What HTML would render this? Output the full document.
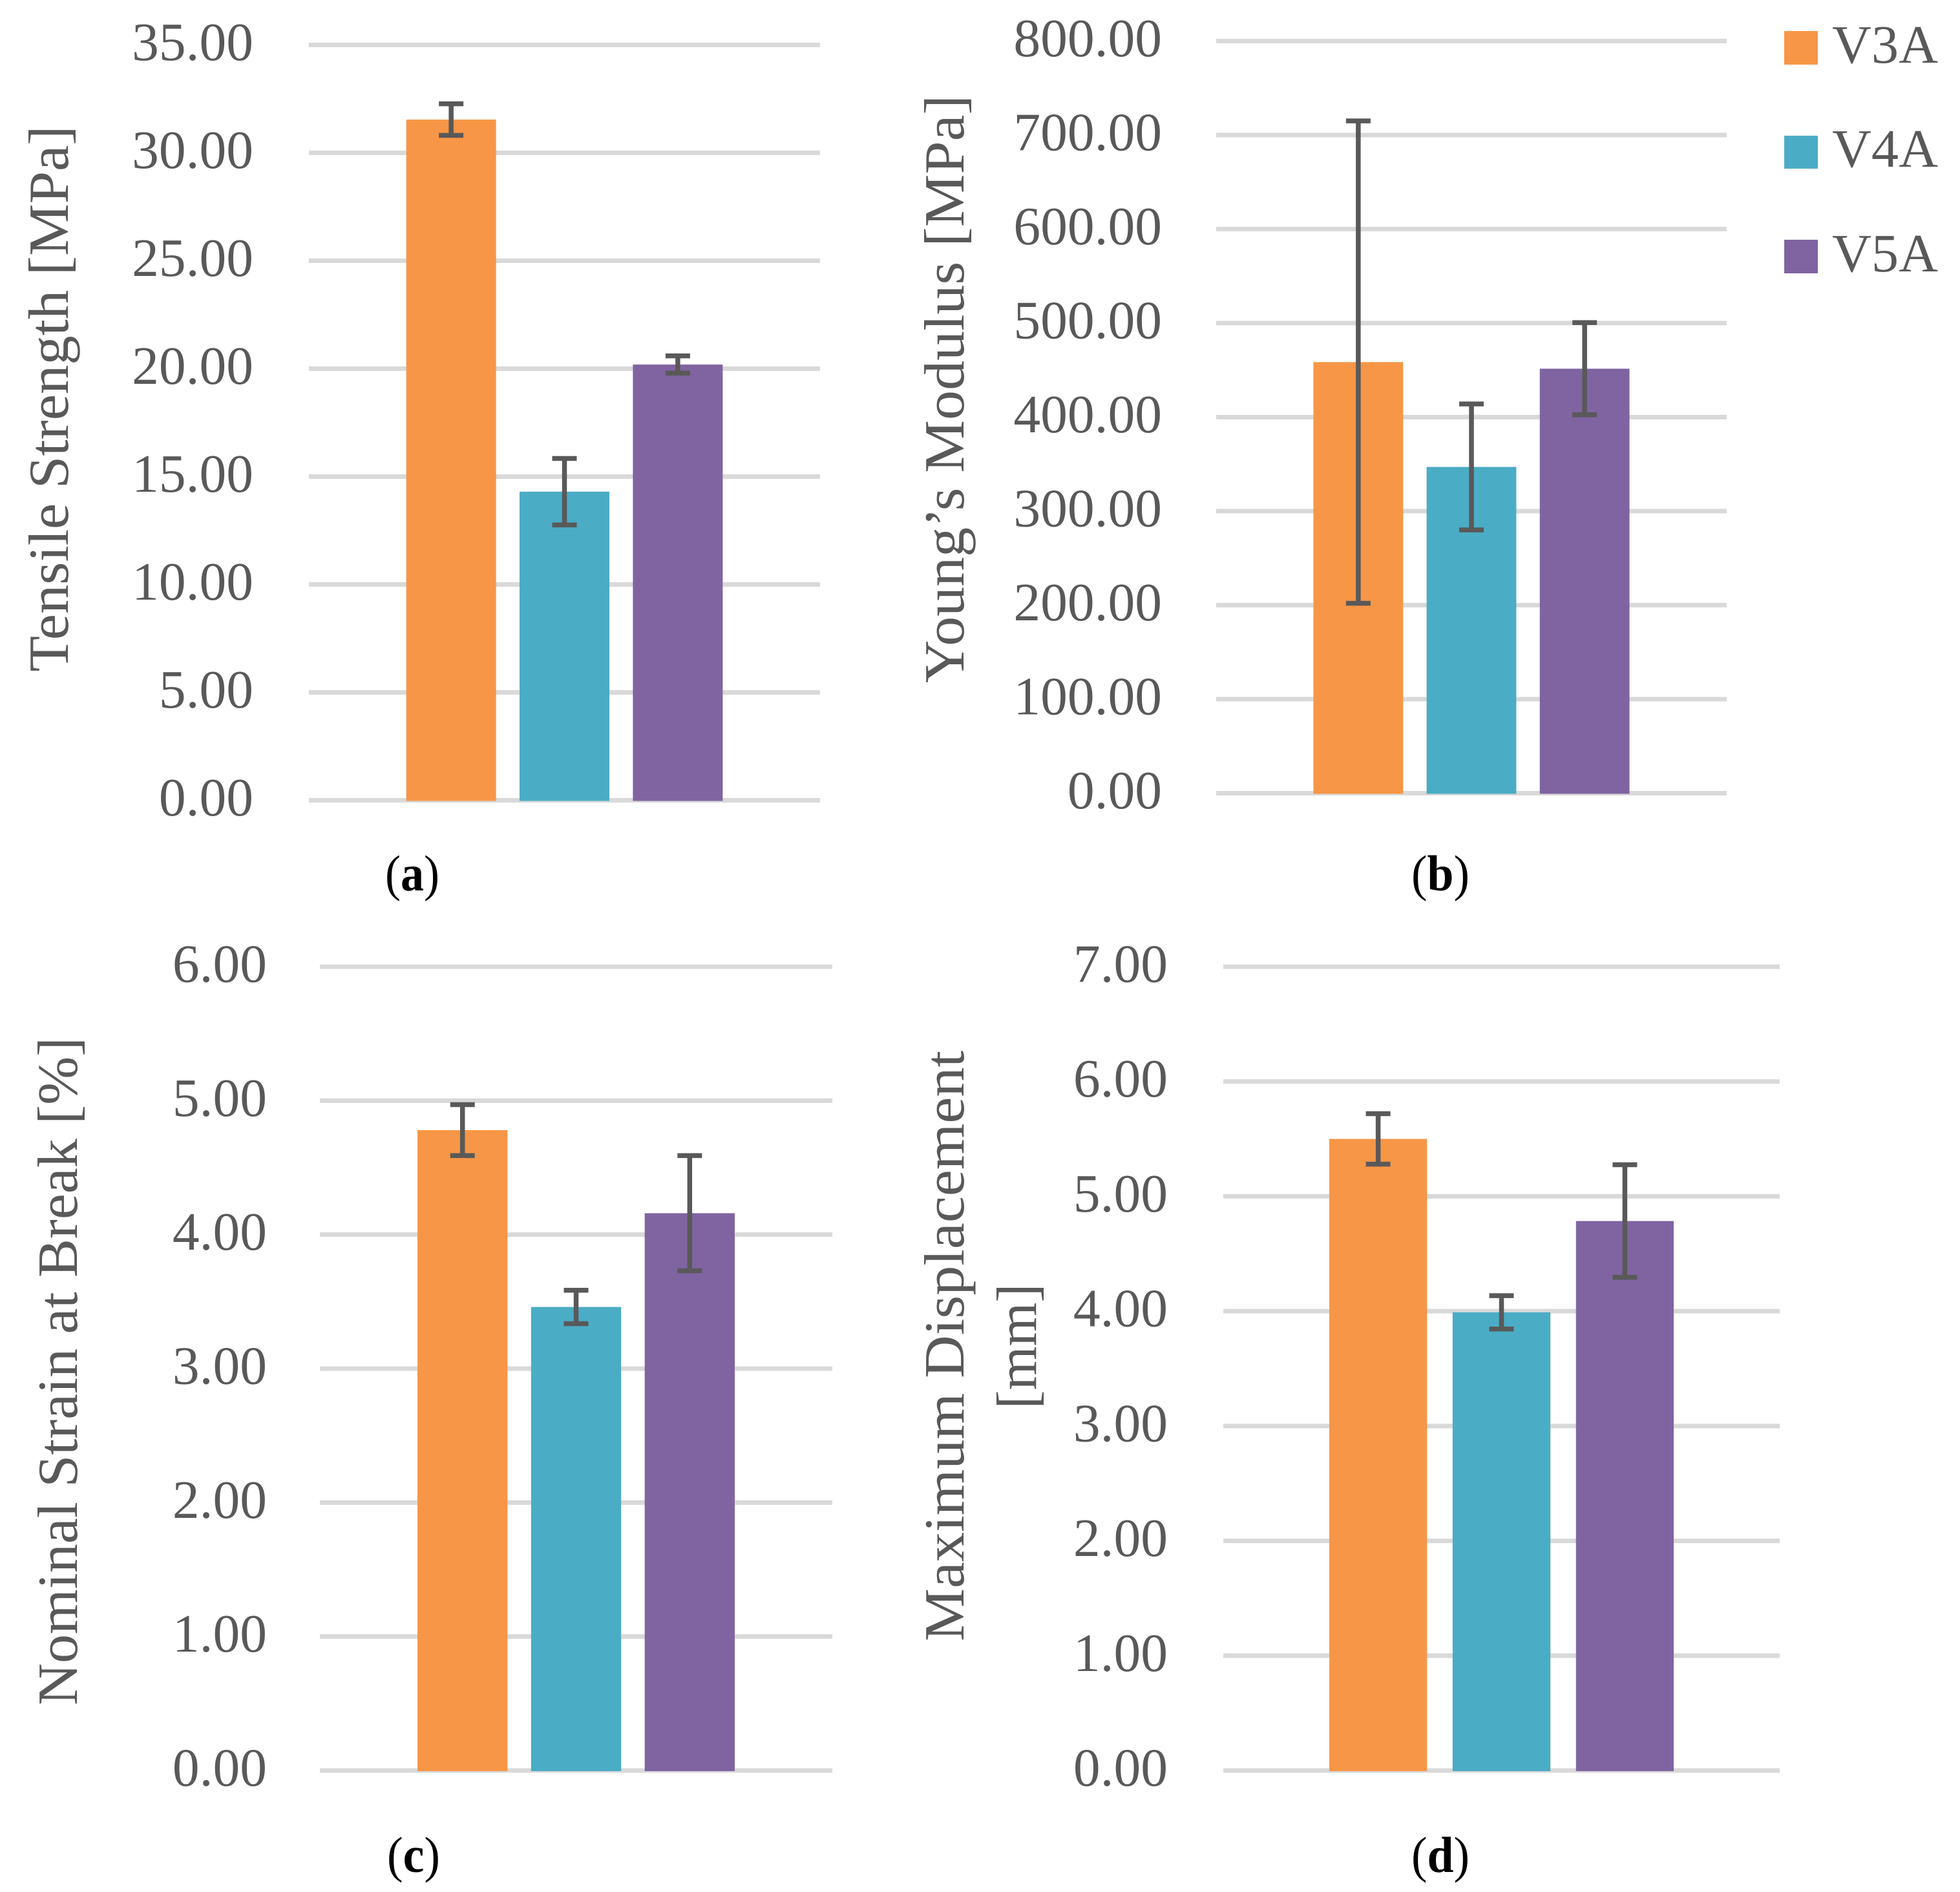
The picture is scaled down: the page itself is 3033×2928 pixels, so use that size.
<!DOCTYPE html>
<html lang="en">
<head>
<meta charset="utf-8">
<title>Mechanical properties of V3A, V4A and V5A</title>
<style>
html,body{margin:0;padding:0;background:#fff;}
svg{display:block;}
text{font-family:"Liberation Serif",serif;fill:#595959;}
.tick{font-size:83.5px;text-anchor:end;}
.title{font-size:88px;text-anchor:middle;}
.legend{font-size:84px;}
.cap{font-size:78px;text-anchor:middle;fill:#000;}
.cap tspan{font-weight:bold;}
</style>
</head>
<body>
<svg id="figure" xmlns="http://www.w3.org/2000/svg" width="3033" height="2928" viewBox="0 0 3033 2928">
  <rect x="0" y="0" width="3033" height="2928" fill="#ffffff"/>
  <g id="panel-a"></g>
  <g id="panel-b"></g>
  <g id="panel-c"></g>
  <g id="panel-d"></g>

  <text class="title" transform="translate(105 617) rotate(-90)" textLength="845" lengthAdjust="spacingAndGlyphs">Tensile Strength [MPa]</text>
  <text class="title" transform="translate(1491 602) rotate(-90)" textLength="910" lengthAdjust="spacingAndGlyphs">Young’s Modulus [MPa]</text>
  <text class="title" transform="translate(119 2122) rotate(-90)" textLength="1034" lengthAdjust="spacingAndGlyphs">Nominal Strain at Break [%]</text>
  <text class="title" transform="translate(1491 2083) rotate(-90)" textLength="914" lengthAdjust="spacingAndGlyphs">Maximum Displacement</text>
  <text class="title" transform="translate(1603 2083.5) rotate(-90)" textLength="194" lengthAdjust="spacingAndGlyphs">[mm]</text>

  <text class="cap" x="638" y="1378" textLength="84" lengthAdjust="spacingAndGlyphs">(<tspan>a</tspan>)</text>
  <text class="cap" x="2229" y="1378" textLength="90" lengthAdjust="spacingAndGlyphs">(<tspan>b</tspan>)</text>
  <text class="cap" x="640" y="2897" textLength="82" lengthAdjust="spacingAndGlyphs">(<tspan>c</tspan>)</text>
  <text class="cap" x="2229" y="2897" textLength="90" lengthAdjust="spacingAndGlyphs">(<tspan>d</tspan>)</text>

  <g>
    <g>
      <rect x="2761" y="48" width="52" height="52" fill="#F79646"/>
      <text class="legend" x="2835" y="97" textLength="164" lengthAdjust="spacingAndGlyphs">V3A</text>
    </g>
    <g>
      <rect x="2761" y="210" width="52" height="51" fill="#4BACC6"/>
      <text class="legend" x="2835" y="258" textLength="164" lengthAdjust="spacingAndGlyphs">V4A</text>
    </g>
    <g>
      <rect x="2761" y="371" width="52" height="52" fill="#8064A2"/>
      <text class="legend" x="2835" y="420" textLength="164" lengthAdjust="spacingAndGlyphs">V5A</text>
    </g>
  </g>
</svg>
<script>
const seriesNames = ['v3a', 'v4a', 'v5a'];

const tensileTicks = ['0.00', '5.00', '10.00', '15.00', '20.00', '25.00', '30.00', '35.00'];
const tensileMeans = [31.54, 14.30, 20.19];
const tensileErrors = [0.73, 1.54, 0.40];

const modulusTicks = ['0.00', '100.00', '200.00', '300.00', '400.00', '500.00', '600.00', '700.00', '800.00'];
const modulusMeans = [458.5, 347, 451.5];
const modulusErrors = [256.5, 67, 49];

const strainTicks = ['0.00', '1.00', '2.00', '3.00', '4.00', '5.00', '6.00'];
const strainMeans = [4.78, 3.46, 4.16];
const strainErrors = [0.19, 0.125, 0.43];

const displacementTicks = ['0.00', '1.00', '2.00', '3.00', '4.00', '5.00', '6.00', '7.00'];
const displacementMeans = [5.50, 3.99, 4.785];
const displacementErrors = [0.22, 0.145, 0.49];

const seriesColors = ['#F79646', '#4BACC6', '#8064A2'];
const NS = 'http://www.w3.org/2000/svg';

function makeLine(parent, x1, y1, x2, y2, stroke, width) {
  const l = document.createElementNS(NS, 'line');
  l.setAttribute('x1', x1);
  l.setAttribute('y1', y1);
  l.setAttribute('x2', x2);
  l.setAttribute('y2', y2);
  l.setAttribute('stroke', stroke);
  l.setAttribute('stroke-width', width);
  parent.appendChild(l);
  return l;
}

function drawPanel(id, frame, ticks, means, errors) {
  const root = document.getElementById(id);
  const tickValues = ticks.map(Number);
  const maxValue = Math.max.apply(null, tickValues);
  const yOf = function (v) { return frame.bottom - (v / maxValue) * (frame.bottom - frame.top); };
  const plotWidth = frame.right - frame.left;
  const barWidth = plotWidth * 0.1757;
  const pitch = plotWidth * 0.2217;
  const firstBar = frame.left + (plotWidth - (2 * pitch + barWidth)) / 2;
  const xOf = function (i) { return firstBar + i * pitch; };

  ticks.forEach(function (label, i) {
    const v = tickValues[i];
    const grid = makeLine(root, frame.left, yOf(v), frame.right, yOf(v), '#D9D9D9', 7);
    
    
    const t = document.createElementNS(NS, 'text');
    t.setAttribute('class', 'tick');
    t.setAttribute('x', frame.labelRight);
    t.setAttribute('y', yOf(v) + 23.5);
    
    
    t.textContent = label;
    root.appendChild(t);
  });

  means.forEach(function (mean, i) {
    const bar = document.createElementNS(NS, 'rect');
    bar.setAttribute('x', xOf(i));
    bar.setAttribute('y', yOf(mean));
    bar.setAttribute('width', barWidth);
    bar.setAttribute('height', frame.bottom + 1 - yOf(mean));
    bar.setAttribute('fill', seriesColors[i]);
    
    
    root.appendChild(bar);
  });

  means.forEach(function (mean, i) {
    const cx = xOf(i) + barWidth / 2;
    const hi = yOf(mean + errors[i]);
    const lo = yOf(mean - errors[i]);
    const g = document.createElementNS(NS, 'g');
    
    
    root.appendChild(g);
    makeLine(g, cx, hi, cx, lo, '#595959', 7.5);
    makeLine(g, cx - 19, hi, cx + 19, hi, '#595959', 7.5);
    makeLine(g, cx - 19, lo, cx + 19, lo, '#595959', 7.5);
  });
}

drawPanel('panel-a', {left: 478, right: 1269, top: 69.5, bottom: 1238.5, labelRight: 392}, tensileTicks, tensileMeans, tensileErrors);
drawPanel('panel-b', {left: 1882, right: 2672, top: 63.5, bottom: 1227.5, labelRight: 1798}, modulusTicks, modulusMeans, modulusErrors);
drawPanel('panel-c', {left: 495, right: 1288, top: 1496, bottom: 2740, labelRight: 413}, strainTicks, strainMeans, strainErrors);
drawPanel('panel-d', {left: 1893, right: 2754, top: 1496, bottom: 2740, labelRight: 1807}, displacementTicks, displacementMeans, displacementErrors);
</script>
</body>
</html>
